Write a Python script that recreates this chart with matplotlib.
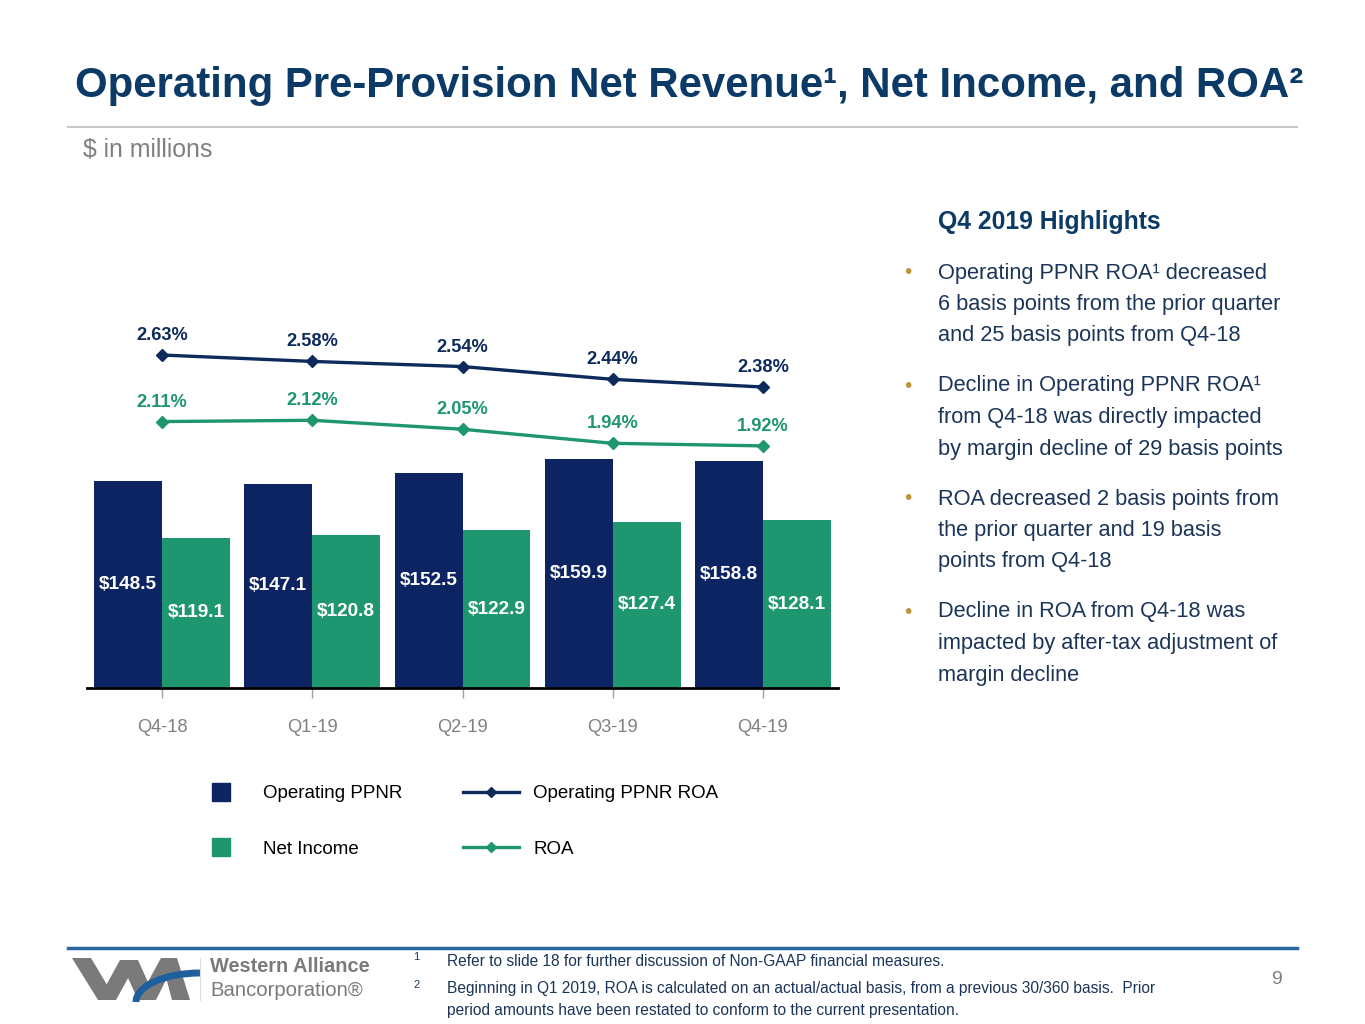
import numpy as np
import matplotlib
matplotlib.use("Agg")
import matplotlib.pyplot as plt
from matplotlib import font_manager
from matplotlib.lines import Line2D
from matplotlib.patches import Polygon, Arc

# data
quarters = ["Q4-18", "Q1-19", "Q2-19", "Q3-19", "Q4-19"]
ppnr = [148.5, 147.1, 152.5, 159.9, 158.8]
net_income = [119.1, 120.8, 122.9, 127.4, 128.1]
ppnr_roa = [2.63, 2.58, 2.54, 2.44, 2.38]
roa = [2.11, 2.12, 2.05, 1.94, 1.92]

names = {f.name for f in font_manager.fontManager.ttflist}
FONT = "Liberation Sans Narrow" if "Liberation Sans Narrow" in names else "Liberation Sans"
plt.rcParams["font.family"] = [FONT, "DejaVu Sans"]

NAVY = "#0c2461"
GREEN = "#1e9670"
LNAVY = "#0d2a5c"
TITLE = "#0b3a66"
BODY = "#1b3558"
GRAY = "#808080"
GOLD = "#b8963e"

W, H = 1365, 1024
fig = plt.figure(figsize=(W / 100, H / 100), dpi=100)
renderer = fig.canvas.get_renderer()


def px(x, y):
    return x / W, 1 - y / H


def size_for(s, target, weight="normal", base=20):
    # font size that makes text s about target pixels wide
    t = fig.text(0, 0, s, fontsize=base, fontweight=weight)
    wd = t.get_window_extent(renderer).width
    t.remove()
    return base * target / wd


# title area
title = "Operating Pre-Provision Net Revenue\u00b9, Net Income, and ROA\u00b2"
fig.text(*px(75, 86), title, fontsize=size_for(title, 1230, "bold"),
         fontweight="bold", color=TITLE, va="center", ha="left")
fig.add_artist(Line2D([68 / W, 1297 / W], [1 - 127 / H] * 2, color="#c8c8c8", lw=1.5))
fig.text(*px(83, 150), "$ in millions", fontsize=size_for("$ in millions", 130),
         color=GRAY, va="center")

# chart
ax = fig.add_axes([87 / W, 336 / H, 751 / W, 388 / H])
x = np.arange(len(quarters))
w = 0.4526
bar_fs = size_for("$148.5", 58, "bold")
b1 = ax.bar(x - w / 2, ppnr, w, color=NAVY, label="Operating PPNR")
b2 = ax.bar(x + w / 2, net_income, w, color=GREEN, label="Net Income")
ax.bar_label(b1, labels=[f"${v:.1f}" for v in ppnr], label_type="center",
             color="white", fontsize=bar_fs, fontweight="bold")
ax.bar_label(b2, labels=[f"${v:.1f}" for v in net_income], label_type="center",
             color="white", fontsize=bar_fs, fontweight="bold")
ax.set_xlim(-0.5, 4.5)
ax.set_ylim(41.3, 242.3)
for s in ["top", "left", "right"]:
    ax.spines[s].set_visible(False)
ax.spines["bottom"].set_linewidth(2)
ax.set_yticks([])
ax.set_xticks(x)
ax.set_xticklabels(quarters)
ax.tick_params(axis="x", length=7, width=1, color="#a0a0a0", pad=15,
               labelsize=size_for("Q4-18", 51), labelcolor=GRAY)

ax2 = ax.twinx()
ax2.set_ylim(0.028, 3.06)
ax2.set_yticks([])
for s in ax2.spines.values():
    s.set_visible(False)
ax2.plot(x, ppnr_roa, color=LNAVY, lw=2.4, marker="D", ms=6, label="Operating PPNR ROA")
ax2.plot(x, roa, color=GREEN, lw=2.4, marker="D", ms=6, label="ROA")
pct_fs = size_for("2.63%", 52, "bold")
for i, v in enumerate(ppnr_roa):
    ax2.annotate(f"{v:.2f}%", (i, v), xytext=(0, 14), textcoords="offset points",
                 ha="center", va="center", fontsize=pct_fs, fontweight="bold", color=LNAVY)
for i, v in enumerate(roa):
    ax2.annotate(f"{v:.2f}%", (i, v), xytext=(0, 14), textcoords="offset points",
                 ha="center", va="center", fontsize=pct_fs, fontweight="bold", color=GREEN)

# legend
leg_fs = size_for("Operating PPNR", 139)
fpx = leg_fs * 100 / 72
h1 = Line2D([], [], ls="none", marker="s", ms=13, color=NAVY)
h2 = Line2D([], [], ls="none", marker="s", ms=13, color=GREEN)
h3 = Line2D([], [], color=LNAVY, lw=2.4, marker="D", ms=5)
h4 = Line2D([], [], color=GREEN, lw=2.4, marker="D", ms=5)
fig.legend([h1, h2, h3, h4], ["Operating PPNR", "Net Income", "Operating PPNR ROA", "ROA"],
           ncol=2, loc="upper left", bbox_to_anchor=px(193, 785), frameon=False,
           fontsize=leg_fs, handlelength=56 / fpx, handletextpad=14 / fpx,
           columnspacing=61 / fpx, labelspacing=(61 - 1.2 * fpx) / fpx,
           borderpad=0, borderaxespad=0)

# highlights
fig.text(*px(938, 222), "Q4 2019 Highlights",
         fontsize=size_for("Q4 2019 Highlights", 222, "bold"), fontweight="bold",
         color=TITLE, va="center")
bullets = [
    ["Operating PPNR ROA\u00b9 decreased", "6 basis points from the prior quarter",
     "and 25 basis points from Q4-18"],
    ["Decline in Operating PPNR ROA\u00b9", "from Q4-18 was directly impacted",
     "by margin decline of 29 basis points"],
    ["ROA decreased 2 basis points from", "the prior quarter and 19 basis",
     "points from Q4-18"],
    ["Decline in ROA from Q4-18 was", "impacted by after-tax adjustment of",
     "margin decline"],
]
body_fs = size_for("by margin decline of 29 basis points", 345)
tops = [273, 386, 499, 612]
for top, lines in zip(tops, bullets):
    fig.text(*px(908, top), "\u2022", fontsize=15, color=GOLD, va="center", ha="center")
    for k, line in enumerate(lines):
        fig.text(*px(938, top + k * 31.5), line, fontsize=body_fs, color=BODY, va="center")

# footer
fig.add_artist(Line2D([68 / W, 1297 / W], [1 - 948 / H] * 2, color="#2867a0", lw=2.5))
lax = fig.add_axes([60 / W, 1 - 1008 / H, 140 / W, 56 / H])
lax.set_xlim(60, 200)
lax.set_ylim(1008, 952)
lax.axis("off")
lgray = "#7a7a7a"
for poly in [
    [(72, 958), (91, 958), (116, 1000), (98, 1000)],
    [(98, 1000), (116, 1000), (138, 960), (120, 960)],
    [(120, 960), (138, 960), (156, 1000), (138, 1000)],
    [(138, 1000), (156, 1000), (177, 958), (161, 958)],
    [(161, 958), (177, 958), (190, 1000), (172, 1000)],
]:
    lax.add_patch(Polygon(poly, closed=True, color=lgray, lw=0))
lax.add_patch(Arc((200, 1002), 128, 58, theta1=180, theta2=270, color="#1f5f9e", lw=5))
fig.add_artist(Line2D([200 / W] * 2, [1 - 958 / H, 1 - 1000 / H], color="#dddddd", lw=0.8))
fig.text(*px(210, 966), "Western Alliance",
         fontsize=size_for("Western Alliance", 160, "bold"), fontweight="bold",
         color=lgray, va="center")
fig.text(*px(210, 990), "Bancorporation\u00ae", fontsize=size_for("Bancorporation\u00ae", 152),
         color=lgray, va="center")

foot_fs = size_for("Refer to slide 18 for further discussion of Non-GAAP financial measures.", 498)
fig.text(*px(413, 957), "1", fontsize=8, color=BODY, va="center")
fig.text(*px(447, 961), "Refer to slide 18 for further discussion of Non-GAAP financial measures.",
         fontsize=foot_fs, color=BODY, va="center")
fig.text(*px(413, 985), "2", fontsize=8, color=BODY, va="center")
fig.text(*px(447, 989), "Beginning in Q1 2019, ROA is calculated on an actual/actual basis, "
         "from a previous 30/360 basis.  Prior", fontsize=foot_fs, color=BODY, va="center")
fig.text(*px(447, 1011), "period amounts have been restated to conform to the current presentation.",
         fontsize=foot_fs, color=BODY, va="center")
fig.text(*px(1277, 980), "9", fontsize=14, color=GRAY, va="center", ha="center")

fig.savefig("out.png", dpi=100)
